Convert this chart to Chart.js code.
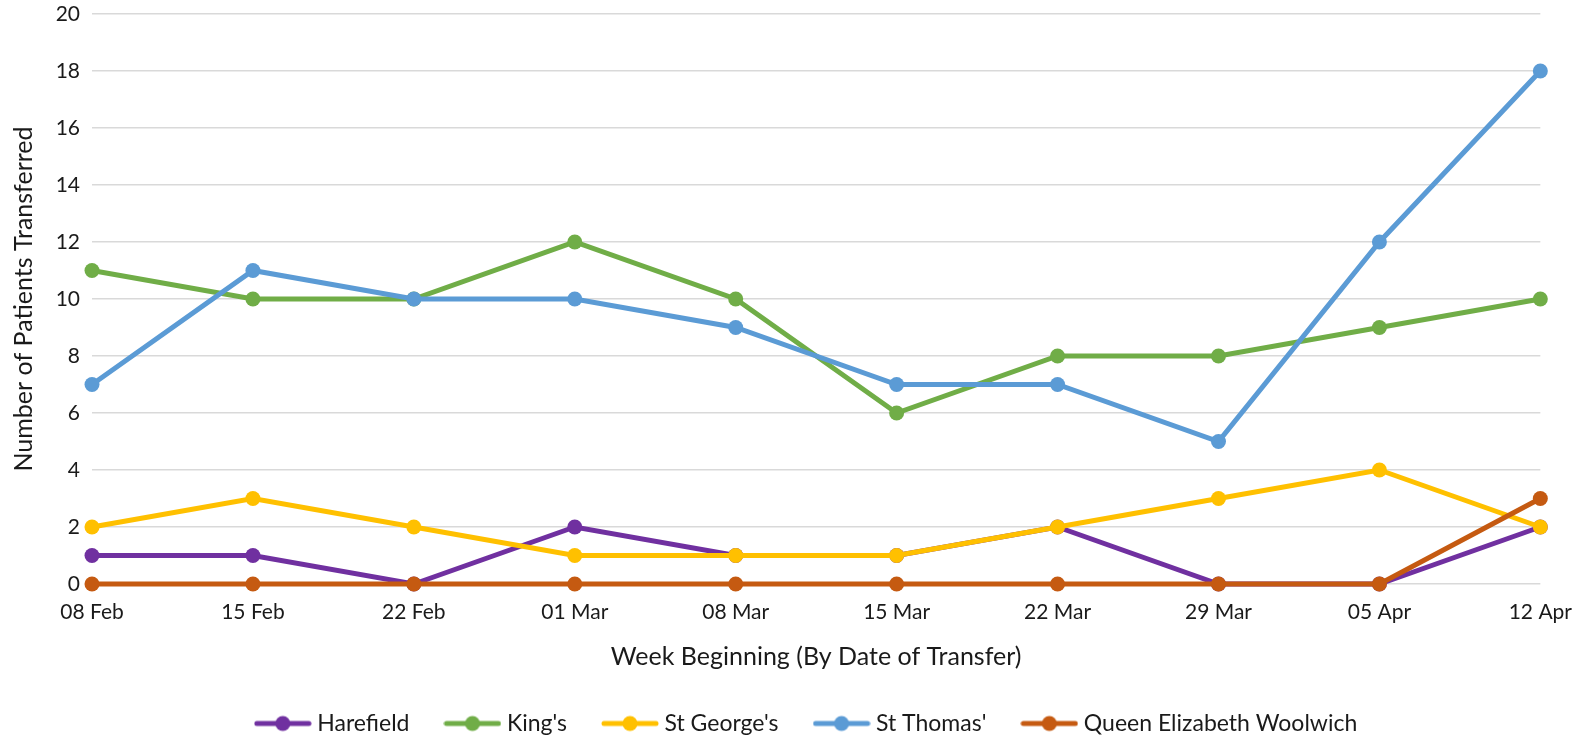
<!DOCTYPE html>
<html>
<head>
<meta charset="utf-8">
<script src="https://cdn.jsdelivr.net/npm/chart.js@4"></script>
<style>
  html, body { margin: 0; padding: 0; background: #fff; }
  #wrap { width: 1580px; height: 738px; }
</style>
</head>
<body>
<div id="wrap"><canvas id="chart" width="1580" height="738"></canvas></div>
<script>
// Dane
const weeks = ['08 Feb', '15 Feb', '22 Feb', '01 Mar', '08 Mar', '15 Mar', '22 Mar', '29 Mar', '05 Apr', '12 Apr'];
const harefield = [1, 1, 0, 2, 1, 1, 2, 0, 0, 2];
const kings = [11, 10, 10, 12, 10, 6, 8, 8, 9, 10];
const stGeorges = [2, 3, 2, 1, 1, 1, 2, 3, 4, 2];
const stThomas = [7, 11, 10, 10, 9, 7, 7, 5, 12, 18];
const qeWoolwich = [0, 0, 0, 0, 0, 0, 0, 0, 0, 3];
const yTicks = { min: 0, max: 20, step: 2 };

const FONT = 'Lato, "Open Sans", sans-serif';
const TEXT = '#1a1a1a';

// Znacznik legendy: linia z kropką
const legendMarker = (color) => {
    const c = document.createElement('canvas');
    c.width = 58;
    c.height = 18;
    const ctx = c.getContext('2d');
    ctx.strokeStyle = color;
    ctx.lineWidth = 5;
    ctx.lineCap = 'round';
    ctx.beginPath();
    ctx.moveTo(3, 9);
    ctx.lineTo(55, 9);
    ctx.stroke();
    ctx.fillStyle = color;
    ctx.beginPath();
    ctx.arc(29, 9, 7.5, 0, Math.PI * 2);
    ctx.fill();
    return c;
};

// Przesunięcie legendy w prawo (wyśrodkowanie jak w oryginale)
const legendShift = {
    id: 'legendShift',
    afterLayout(chart) {
        if (chart.legend) {
            chart.legend.left += 35;
            chart.legend.right += 35;
        }
    }
};

const series = (label, data, color, order) => ({
    label,
    data,
    order,
    clip: false,
    borderColor: color,
    backgroundColor: color,
    borderWidth: 5,
    pointRadius: 7.5,
    pointHoverRadius: 7.5,
    pointBorderWidth: 0,
    tension: 0
});

new Chart(document.getElementById('chart'), {
    type: 'line',
    data: {
        labels: weeks,
        datasets: [
            series('Harefield', harefield, '#7030A0', 5),
            series("King's", kings, '#70AD47', 4),
            series("St George's", stGeorges, '#FFC000', 3),
            series("St Thomas'", stThomas, '#5B9BD5', 2),
            series('Queen Elizabeth Woolwich', qeWoolwich, '#C55A11', 1)
        ]
    },
    plugins: [legendShift],
    options: {
        responsive: false,
        animation: false,
        layout: { padding: { top: 14, right: 33, left: 0, bottom: -7 } },
        scales: {
            x: {
                offset: false,
                grid: { display: false },
                border: { display: false },
                ticks: { color: TEXT, font: { family: FONT, size: 21 }, maxRotation: 0, padding: 8 },
                title: {
                    display: true,
                    text: 'Week Beginning (By Date of Transfer)',
                    color: TEXT,
                    font: { family: FONT, size: 25 },
                    padding: { top: 0, bottom: 0 }
                },
                afterFit: (scale) => { scale.height = 88; }
            },
            y: {
                min: yTicks.min,
                max: yTicks.max,
                ticks: { stepSize: yTicks.step, color: TEXT, font: { family: FONT, size: 21 }, padding: 12 },
                grid: { color: '#d9d9d9', lineWidth: 1.5, drawTicks: false },
                border: { display: false },
                title: {
                    display: true,
                    text: 'Number of Patients Transferred',
                    color: TEXT,
                    font: { family: FONT, size: 25 },
                    padding: { top: 9, bottom: 2 }
                },
                afterFit: (scale) => {
                    scale.width = 92;
                    scale.paddingTop = 0;
                    scale.paddingBottom = 0;
                }
            }
        },
        plugins: {
            tooltip: { enabled: false },
            legend: {
                position: 'bottom',
                labels: {
                    color: TEXT,
                    font: { family: FONT, size: 23 },
                    usePointStyle: true,
                    pointStyleWidth: 46,
                    boxHeight: 18,
                    padding: 40,
                    sort: (a, b) => a.datasetIndex - b.datasetIndex,
                    generateLabels: (chart) => {
                        const items = Chart.defaults.plugins.legend.labels.generateLabels(chart);
                        items.forEach(it => {
                            it.pointStyle = legendMarker(chart.data.datasets[it.datasetIndex].borderColor);
                        });
                        return items;
                    }
                }
            }
        }
    }
});
</script>
</body>
</html>
